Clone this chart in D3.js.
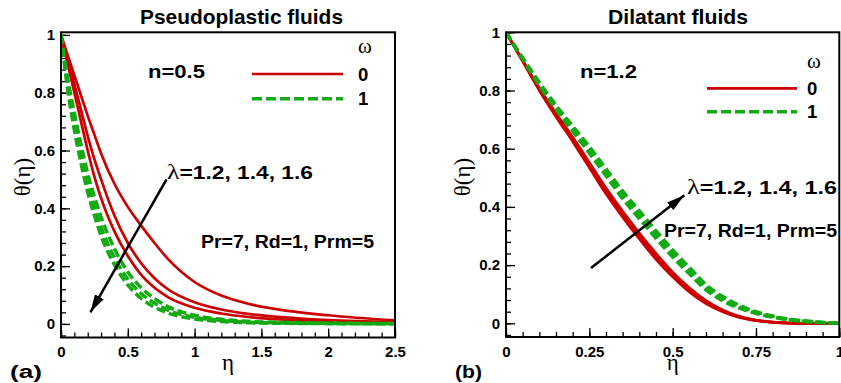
<!DOCTYPE html>
<html>
<head>
<meta charset="utf-8">
<script src="https://cdn.jsdelivr.net/npm/d3@7"></script>
<style>
  body { margin: 0; background: #fff; }
  svg { display: block; }
  .sans { font-family: Arial, "Liberation Sans", Helvetica, sans-serif; font-weight: bold; fill: #000; }
  .greek { font-family: "Times New Roman", "Liberation Serif", "DejaVu Serif", serif; fill: #000; }
</style>
</head>
<body>
<svg id="chart" width="841" height="383"></svg>
<script>
// ---- panel (a): pseudoplastic, n=0.5 ----
const etaA = [0, 0.05, 0.1, 0.15, 0.2, 0.25, 0.3, 0.4, 0.5, 0.6, 0.7, 0.8, 1.0, 1.2, 1.4, 1.7, 2.0, 2.5];
// omega = 0 (solid red), lambda = 1.2, 1.4, 1.6
const thetaA_w0_l12 = [1, 0.93, 0.86, 0.79, 0.72, 0.655, 0.59, 0.485, 0.405, 0.34, 0.28, 0.225, 0.145, 0.098, 0.07, 0.045, 0.03, 0.012];
const thetaA_w0_l14 = [1, 0.915, 0.83, 0.74, 0.65, 0.57, 0.5, 0.375, 0.28, 0.21, 0.158, 0.12, 0.075, 0.05, 0.035, 0.022, 0.013, 0.006];
const thetaA_w0_l16 = [1, 0.9, 0.8, 0.7, 0.6, 0.51, 0.435, 0.32, 0.235, 0.17, 0.125, 0.093, 0.056, 0.036, 0.024, 0.014, 0.008, 0.003];
// omega = 1 (dashed green)
const thetaA_w1_l12 = [1, 0.85, 0.73, 0.62, 0.52, 0.44, 0.37, 0.26, 0.18, 0.125, 0.088, 0.06, 0.03, 0.016, 0.009, 0.005, 0.003, 0.001];
const thetaA_w1_l14 = [1, 0.83, 0.7, 0.585, 0.485, 0.405, 0.335, 0.23, 0.155, 0.105, 0.072, 0.048, 0.023, 0.012, 0.006, 0.003, 0.002, 0.001];
const thetaA_w1_l16 = [1, 0.81, 0.67, 0.555, 0.455, 0.375, 0.305, 0.205, 0.135, 0.088, 0.058, 0.038, 0.017, 0.008, 0.004, 0.002, 0.001, 0];

// ---- panel (b): dilatant, n=1.2 ----
const etaB = [0, 0.05, 0.1, 0.15, 0.2, 0.25, 0.3, 0.35, 0.4, 0.45, 0.5, 0.55, 0.6, 0.65, 0.7, 0.75, 0.8, 0.85, 0.9, 0.95, 1.0];
const thetaB_w0_l12 = [1, 0.9, 0.8, 0.71, 0.625, 0.535, 0.445, 0.365, 0.29, 0.22, 0.16, 0.108, 0.068, 0.04, 0.02, 0.009, 0.003, 0.001, 0, 0, 0];
const thetaB_w0_l14 = [1, 0.902, 0.804, 0.716, 0.632, 0.544, 0.455, 0.375, 0.3, 0.23, 0.168, 0.115, 0.073, 0.043, 0.022, 0.01, 0.004, 0.001, 0, 0, 0];
const thetaB_w0_l16 = [1, 0.904, 0.808, 0.722, 0.64, 0.553, 0.465, 0.385, 0.31, 0.24, 0.176, 0.122, 0.078, 0.046, 0.024, 0.011, 0.004, 0.001, 0, 0, 0];
const thetaB_w1_l12 = [1, 0.908, 0.818, 0.735, 0.66, 0.585, 0.507, 0.428, 0.36, 0.292, 0.228, 0.17, 0.115, 0.078, 0.052, 0.034, 0.021, 0.012, 0.006, 0.002, 0];
const thetaB_w1_l14 = [1, 0.91, 0.823, 0.742, 0.669, 0.596, 0.519, 0.441, 0.373, 0.305, 0.24, 0.181, 0.124, 0.085, 0.057, 0.037, 0.023, 0.013, 0.007, 0.003, 0];
const thetaB_w1_l16 = [1, 0.912, 0.828, 0.749, 0.678, 0.607, 0.531, 0.454, 0.386, 0.318, 0.252, 0.192, 0.133, 0.092, 0.062, 0.04, 0.025, 0.014, 0.008, 0.003, 0];

// tick labels
const yTicks = [0, 0.2, 0.4, 0.6, 0.8, 1];
const xTicksA = [0, 0.5, 1, 1.5, 2, 2.5];
const xTicksB = [0, 0.25, 0.5, 0.75, 1];

const RED = "#cc0000";
const GREEN = "#14aa14";

const svg = d3.select("#chart");
const defs = svg.append("defs");
defs.append("marker")
    .attr("id", "head")
    .attr("viewBox", "0 0 18 10")
    .attr("refX", 18).attr("refY", 5)
    .attr("markerWidth", 18).attr("markerHeight", 10)
    .attr("markerUnits", "userSpaceOnUse")
    .attr("orient", "auto")
    .append("path").attr("d", "M0,0 L18,5 L0,10 Z").attr("fill", "#000");

const panels = [
    {
        id: "a", left: 61, right: 395, top: 32.3, bottom: 337.5,
        xDomain: [0, 2.5], yDomain: [-0.047, 1.009],
        xTicks: xTicksA, xMinor: 0.1, eta: etaA,
        red: [thetaA_w0_l12, thetaA_w0_l14, thetaA_w0_l16],
        green: [thetaA_w1_l12, thetaA_w1_l14, thetaA_w1_l16],
        title: "Pseudoplastic fluids", titleX: 241.5, titleW: 203,
        n: "n=0.5", nPos: [148, 78],
        legend: { omega: [358, 53], x0: 252, x1: 343, y0: 74, y1: 98.7 },
        lam: [167, 179, 146], pr: [201, 248, 173],
        arrow: [[0.79, 0.5], [0.22, 0.04]],
        tag: "(a)", tagX: 10, yLabX: 22
    },
    {
        id: "b", left: 506, right: 839.3, top: 32.3, bottom: 337,
        xDomain: [0, 1], yDomain: [-0.047, 1],
        xTicks: xTicksB, xMinor: 0.05, eta: etaB,
        red: [thetaB_w0_l12, thetaB_w0_l14, thetaB_w0_l16],
        green: [thetaB_w1_l12, thetaB_w1_l14, thetaB_w1_l16],
        title: "Dilatant fluids", titleX: 678, titleW: 140,
        n: "n=1.2", nPos: [580, 78],
        legend: { omega: [807, 68], x0: 707, x1: 797, y0: 88.3, y1: 111.7 },
        lam: [687, 193.5, 150], pr: [664, 237, 173],
        arrow: [[0.255, 0.19], [0.535, 0.44]],
        tag: "(b)", tagX: 455, yLabX: 462
    }
];

panels.forEach(p => {
    const x = d3.scaleLinear().domain(p.xDomain).range([p.left, p.right]);
    const y = d3.scaleLinear().domain(p.yDomain).range([p.bottom, p.top]);
    const g = svg.append("g");

    defs.append("clipPath").attr("id", "clip-" + p.id)
        .append("rect")
        .attr("x", p.left).attr("y", p.top)
        .attr("width", p.right - p.left).attr("height", p.bottom - p.top);

    // minor ticks (inward)
    const xMin = d3.range(p.xDomain[0], p.xDomain[1] + 1e-9, p.xMinor);
    const yMin = d3.range(-0.04, p.yDomain[1] + 1e-9, 0.04);
    g.append("g").attr("transform", `translate(0,${p.bottom})`)
        .call(d3.axisBottom(x).tickValues(xMin).tickSize(-5).tickFormat(""))
        .call(a => a.select(".domain").remove());
    g.append("g").attr("transform", `translate(${p.left},0)`)
        .call(d3.axisLeft(y).tickValues(yMin).tickSize(-5).tickFormat(""))
        .call(a => a.select(".domain").remove());

    // major ticks + labels
    const xAx = g.append("g").attr("transform", `translate(0,${p.bottom})`)
        .call(d3.axisBottom(x).tickValues(p.xTicks).tickSize(-9).tickPadding(9).tickFormat(d3.format("")))
        .call(a => a.select(".domain").remove());
    const yAx = g.append("g").attr("transform", `translate(${p.left},0)`)
        .call(d3.axisLeft(y).tickValues(yTicks).tickSize(-9).tickPadding(6).tickFormat(d3.format("")))
        .call(a => a.select(".domain").remove());
    [xAx, yAx].forEach(a => {
        a.selectAll("text").attr("class", "sans").attr("font-size", 15);
    });
    g.selectAll(".tick line").attr("stroke", "#000").attr("stroke-width", 1.3);

    // curves
    const line = d3.line()
        .x((d, i) => x(p.eta[i]))
        .y(d => y(d))
        .curve(d3.curveMonotoneX);
    const cg = g.append("g").attr("clip-path", `url(#clip-${p.id})`);
    p.red.forEach(s => {
        cg.append("path").attr("d", line(s)).attr("fill", "none")
            .attr("stroke", RED).attr("stroke-width", 2.7);
    });
    p.green.forEach(s => {
        cg.append("path").attr("d", line(s)).attr("fill", "none")
            .attr("stroke", GREEN).attr("stroke-width", 3.5)
            .attr("stroke-dasharray", "9,4");
    });

    // frame
    g.append("rect")
        .attr("x", p.left).attr("y", p.top)
        .attr("width", p.right - p.left).attr("height", p.bottom - p.top)
        .attr("fill", "none").attr("stroke", "#000").attr("stroke-width", 2);

    // arrow
    g.append("line")
        .attr("x1", x(p.arrow[0][0])).attr("y1", y(p.arrow[0][1]))
        .attr("x2", x(p.arrow[1][0])).attr("y2", y(p.arrow[1][1]))
        .attr("stroke", "#000").attr("stroke-width", 2.5)
        .attr("marker-end", "url(#head)");

    // title, labels
    g.append("text").attr("class", "sans").attr("font-size", 20.5)
        .attr("x", p.titleX).attr("y", 23.5).attr("text-anchor", "middle")
        .attr("textLength", p.titleW).attr("lengthAdjust", "spacingAndGlyphs").text(p.title);
    g.append("text").attr("class", "sans").attr("font-size", 18.5)
        .attr("x", p.nPos[0]).attr("y", p.nPos[1])
        .attr("textLength", 57).attr("lengthAdjust", "spacingAndGlyphs").text(p.n);

    const lam = g.append("text").attr("class", "sans").attr("font-size", 18.5)
        .attr("x", p.lam[0]).attr("y", p.lam[1])
        .attr("textLength", p.lam[2]).attr("lengthAdjust", "spacingAndGlyphs");
    lam.append("tspan").attr("class", "greek").attr("font-weight", "normal").attr("font-size", 21).text("λ");
    lam.append("tspan").text("=1.2, 1.4, 1.6");

    g.append("text").attr("class", "sans").attr("font-size", 18.5)
        .attr("x", p.pr[0]).attr("y", p.pr[1])
        .attr("textLength", p.pr[2]).attr("lengthAdjust", "spacingAndGlyphs")
        .text("Pr=7, Rd=1, Prm=5");

    // legend
    const L = p.legend;
    g.append("text").attr("class", "greek").attr("font-size", 21)
        .attr("x", L.omega[0]).attr("y", L.omega[1]).text("ω");
    g.append("line").attr("x1", L.x0).attr("x2", L.x1).attr("y1", L.y0).attr("y2", L.y0)
        .attr("stroke", RED).attr("stroke-width", 2.7);
    g.append("line").attr("x1", L.x0).attr("x2", L.x1).attr("y1", L.y1).attr("y2", L.y1)
        .attr("stroke", GREEN).attr("stroke-width", 3.5).attr("stroke-dasharray", "10,4");
    g.append("text").attr("class", "sans").attr("font-size", 18.5)
        .attr("x", L.omega[0]).attr("y", L.y0 + 6.5).text("0");
    g.append("text").attr("class", "sans").attr("font-size", 18.5)
        .attr("x", L.omega[0]).attr("y", L.y1 + 6.5).text("1");

    // axis titles
    g.append("text").attr("class", "greek").attr("font-size", 23)
        .attr("x", (p.left + p.right) / 2).attr("y", 370).attr("text-anchor", "middle").text("η");
    g.append("text").attr("class", "greek").attr("font-size", 23)
        .attr("transform", `translate(${p.yLabX},177) rotate(-90)`)
        .attr("text-anchor", "middle").attr("dominant-baseline", "central").text("θ(η)");
    g.append("text").attr("class", "sans").attr("font-size", 18)
        .attr("x", p.tagX).attr("y", 378)
        .attr("textLength", p.id === "a" ? 32 : 27).attr("lengthAdjust", "spacingAndGlyphs").text(p.tag);
});
</script>
</body>
</html>
